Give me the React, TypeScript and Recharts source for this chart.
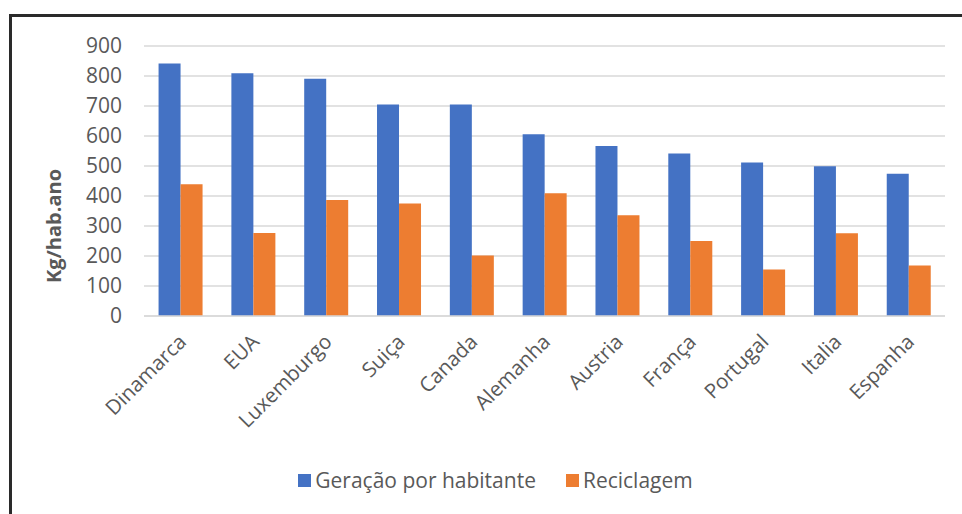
import React from 'react';
import { BarChart, Bar, XAxis, YAxis, CartesianGrid, Legend } from 'recharts';

const categories = ['Dinamarca', 'EUA', 'Luxemburgo', 'Suiça', 'Canada', 'Alemanha', 'Austria', 'França', 'Portugal', 'Italia', 'Espanha'];
const geracao = [842, 809, 791, 705, 705, 606, 567, 542, 512, 499, 474];
const reciclagem = [439, 277, 387, 375, 202, 409, 336, 250, 155, 276, 168];
const yTicks = [0, 100, 200, 300, 400, 500, 600, 700, 800, 900];
const seriesNames = ['Geração por habitante', 'Reciclagem'];
const seriesColors = ['#4472C4', '#ED7D31'];
const yLabel = 'Kg/hab.ano';

const data = categories.map((c, i) => ({ name: c, geracao: geracao[i], reciclagem: reciclagem[i] }));

const FONT = '"Open Sans", "Noto Sans", sans-serif';
const TEXT = '#595959';

const XTick = (props: any) => {
  const { x, y, payload } = props;
  return (
    <g transform={`translate(${x + 2},${y})`}>
      <text x={0} y={0} dy="0.35em" textAnchor="end" transform="rotate(-45)" fill={TEXT} fontSize={20.5} fontFamily={FONT}>
        {payload.value}
      </text>
    </g>
  );
};

const YLabel = () => (
  <text transform="translate(53,226) rotate(-90)" textAnchor="middle" dominantBaseline="central" fill={TEXT} fontSize={20} fontWeight="bold" fontFamily={FONT}>
    {yLabel}
  </text>
);

const LegendContent = () => (
  <div style={{ display: 'flex', justifyContent: 'center', alignItems: 'center', paddingLeft: 32, fontFamily: FONT, fontSize: 21, color: TEXT }}>
    {seriesNames.map((n, i) => (
      <div key={n} style={{ display: 'flex', alignItems: 'center', marginRight: i === 0 ? 30 : 0 }}>
        <span style={{ width: 13, height: 13, background: seriesColors[i], display: 'inline-block', marginRight: 4 }} />
        <span>{n}</span>
      </div>
    ))}
  </div>
);

export default function App() {
  return (
    <div style={{ position: 'absolute', left: 0, top: 0, width: 962, height: 514, overflow: 'hidden', background: '#fff' }}>
      <div style={{ position: 'absolute', left: 9, top: 14, width: 990, height: 540, borderLeft: '3px solid #2a2a2a', borderTop: '3px solid #2a2a2a', boxSizing: 'border-box' }} />
      <div style={{ position: 'absolute', left: 0, top: 0 }}>
        <BarChart width={962} height={514} data={data} margin={{ top: 46, right: 17, bottom: 0, left: 14 }} barCategoryGap="20%" barGap={0}>
          <CartesianGrid vertical={false} stroke="#d9d9d9" strokeWidth={1.5} />
          <XAxis dataKey="name" height={150} interval={0} tickLine={false} axisLine={{ stroke: '#d9d9d9', strokeWidth: 1.5 }} tick={<XTick />} tickMargin={16} />
          <YAxis width={130} domain={[0, 900]} ticks={yTicks} interval={0} axisLine={false} tickLine={false} tickMargin={16}
            tick={{ fill: TEXT, fontSize: 21, fontFamily: FONT }} label={{ content: <YLabel /> }} />
          <Legend verticalAlign="bottom" height={48} content={<LegendContent />} />
          <Bar dataKey="geracao" name={seriesNames[0]} fill={seriesColors[0]} isAnimationActive={false} />
          <Bar dataKey="reciclagem" name={seriesNames[1]} fill={seriesColors[1]} isAnimationActive={false} />
        </BarChart>
      </div>
    </div>
  );
}
